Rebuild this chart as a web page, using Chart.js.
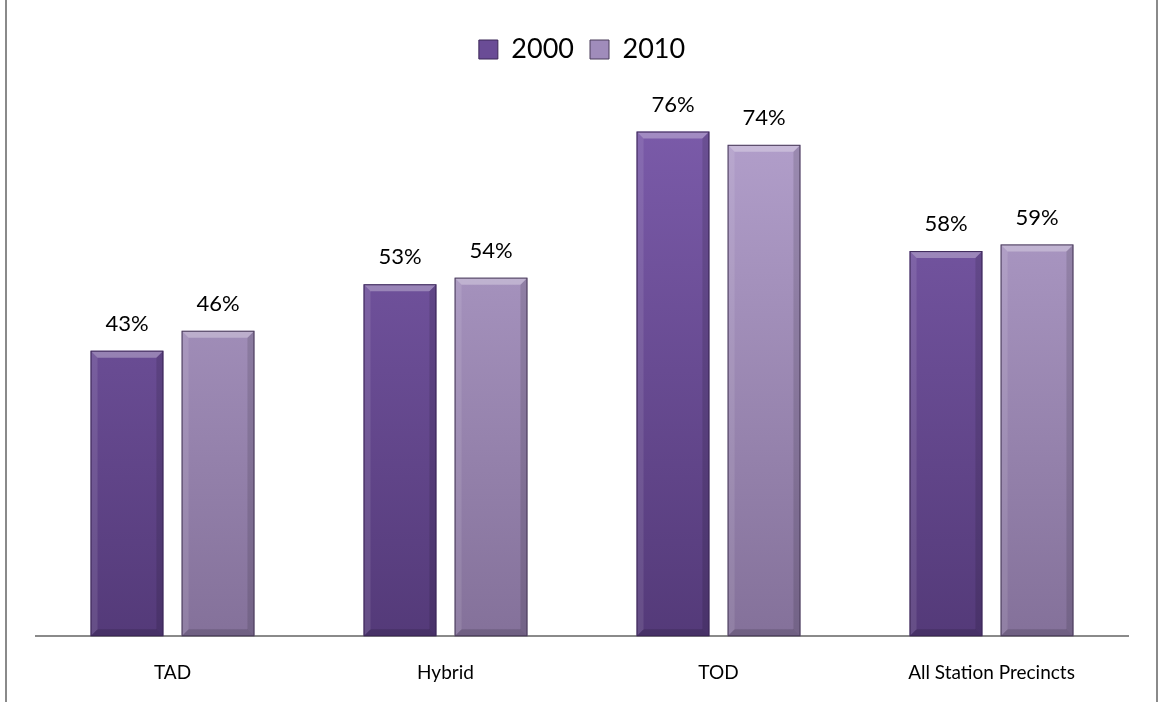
<!DOCTYPE html>
<html><head><meta charset="utf-8">
<script src="https://cdn.jsdelivr.net/npm/chart.js@4"></script>
<style>
html,body{margin:0;padding:0;background:#fff;}
#wrap{position:relative;width:1160px;height:702px;}
#frameL{position:absolute;left:5px;top:0;width:2px;height:702px;background:#8a8a8a;}
#frameR{position:absolute;left:1156px;top:0;width:2px;height:702px;background:#8a8a8a;}
canvas{position:absolute;left:0;top:0;}
</style></head>
<body>
<div id="wrap"><canvas id="c" width="1160" height="702"></canvas><div id="frameL"></div><div id="frameR"></div></div>
<script>
const categories = ["TAD", "Hybrid", "TOD", "All Station Precincts"];
const seriesNames = ["2000", "2010"];
const values2000 = [43, 53, 76, 58];
const values2010 = [46, 54, 74, 59];

const FONT = "Lato, 'Open Sans', 'Liberation Sans', sans-serif";
const palettes = [
  {top:"#7c5cab", bottom:"#543a79", border:"#3b2757", legend:"#6a4c96"},
  {top:"#b4a1cd", bottom:"#84719a", border:"#4a3c5a", legend:"#a08cbb"}
];
function grad(ctx, p){
  const ca = ctx.chart.chartArea;
  if(!ca) return p.bottom;
  const g = ctx.chart.ctx.createLinearGradient(0, ca.top, 0, ca.bottom);
  g.addColorStop(0, p.top); g.addColorStop(1, p.bottom);
  return g;
}
const legendGap = {
  id:'legendGap',
  beforeInit(chart){
    const lg = chart.legend;
    const fit = lg.fit;
    lg.fit = function(){ fit.call(this); this.height += 32; };
  }
};
const bevelPlugin = {
  id:'bevel',
  afterDatasetsDraw(chart){
    const c = chart.ctx;
    chart.data.datasets.forEach((ds, di)=>{
      const meta = chart.getDatasetMeta(di);
      meta.data.forEach((bar, i)=>{
        const w = bar.width, x0 = bar.x - w/2, x1 = bar.x + w/2, y0 = bar.y, y1 = bar.base;
        const b = 7;
        c.save();
        c.fillStyle = 'rgba(255,255,255,0.30)';
        c.beginPath(); c.moveTo(x0,y0); c.lineTo(x1,y0); c.lineTo(x1-b,y0+b); c.lineTo(x0+b,y0+b); c.closePath(); c.fill();
        c.fillStyle = 'rgba(255,255,255,0.10)';
        c.beginPath(); c.moveTo(x0,y0); c.lineTo(x0+b,y0+b); c.lineTo(x0+b,y1-b); c.lineTo(x0,y1); c.closePath(); c.fill();
        c.fillStyle = 'rgba(0,0,0,0.12)';
        c.beginPath(); c.moveTo(x1,y0); c.lineTo(x1-b,y0+b); c.lineTo(x1-b,y1-b); c.lineTo(x1,y1); c.closePath(); c.fill();
        c.fillStyle = 'rgba(0,0,0,0.15)';
        c.beginPath(); c.moveTo(x0,y1); c.lineTo(x0+b,y1-b); c.lineTo(x1-b,y1-b); c.lineTo(x1,y1); c.closePath(); c.fill();
        c.strokeStyle = palettes[di].border; c.lineWidth = 1;
        c.strokeRect(x0+0.5, y0+0.5, w-1, y1-y0-1);
        c.restore();
        c.save();
        c.fillStyle = '#000';
        c.font = "22px " + FONT;
        c.textAlign = 'center'; c.textBaseline = 'middle';
        c.fillText(ds.data[i] + '%', bar.x, bar.y - 27);
        c.restore();
      });
    });
  }
};

new Chart(document.getElementById('c'), {
  type:'bar',
  data:{
    labels: categories,
    datasets:[
      {label: seriesNames[0], data: values2000, backgroundColor: ctx=>grad(ctx, palettes[0]), borderWidth:0},
      {label: seriesNames[1], data: values2010, backgroundColor: ctx=>grad(ctx, palettes[1]), borderWidth:0}
    ]
  },
  options:{
    responsive:false, animation:false,
    layout:{padding:{left:36, right:32, top:20, bottom:-7}},
    datasets:{bar:{categoryPercentage:0.667, barPercentage:0.8}},
    plugins:{
      tooltip:{enabled:false},
      legend:{
        position:'top',
        labels:{
          font:{family:FONT, size:27}, color:'#000', boxWidth:19, boxHeight:19, padding:16,
          generateLabels(chart){
            return chart.data.datasets.map((ds,i)=>({text:ds.label, fillStyle:palettes[i].legend, strokeStyle:palettes[i].border, lineWidth:1, datasetIndex:i}));
          }
        }
      }
    },
    scales:{
      x:{
        grid:{display:false, drawTicks:false},
        border:{display:true, color:'#8a8a8a', width:2},
        ticks:{font:{family:FONT, size:19}, color:'#000', padding:25}
      },
      y:{display:false, min:0, max:80}
    }
  },
  plugins:[legendGap, bevelPlugin]
});
</script>
</body></html>
